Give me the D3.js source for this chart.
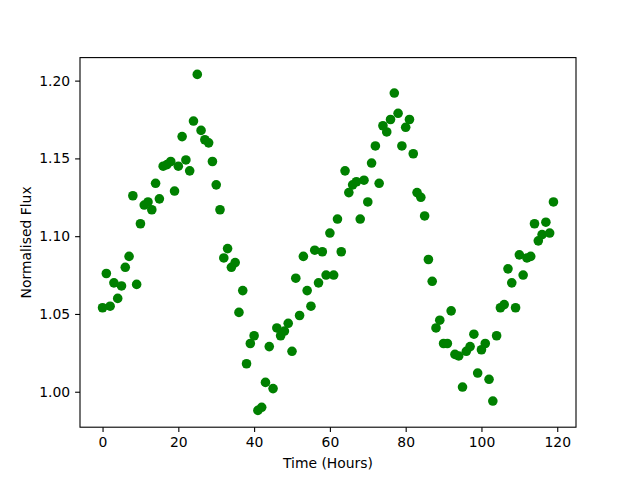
<!DOCTYPE html>
<html>
<head>
<meta charset="utf-8">
<script src="https://cdn.jsdelivr.net/npm/d3@7"></script>
<style>
  body { margin: 0; background: #fff; }
  svg { display: block; font-family: "DejaVu Sans", sans-serif; }
  .axis path { display: none; }
  .axis line { stroke: #000; stroke-width: 1.1; }
  .axis text { font-size: 13.9px; fill: #000; font-family: "DejaVu Sans", sans-serif; }
</style>
</head>
<body>
<div id="chart"></div>
<script>
// hours since start (hourly samples)
const hours = d3.range(0, 120);

// normalised flux, one per hour
const flux = [
  1.054, 1.076, 1.055, 1.070, 1.060, 1.068, 1.080, 1.087, 1.126, 1.069,
  1.108, 1.120, 1.122, 1.117, 1.134, 1.124, 1.145, 1.146, 1.148, 1.129,
  1.145, 1.164, 1.149, 1.142, 1.174, 1.204, 1.168, 1.162, 1.160, 1.148,
  1.133, 1.117, 1.086, 1.092, 1.080, 1.083, 1.051, 1.065, 1.018, 1.031,
  1.036, 0.988, 0.990, 1.006, 1.029, 1.002, 1.041, 1.036, 1.039, 1.044,
  1.026, 1.073, 1.049, 1.087, 1.065, 1.055, 1.091, 1.070, 1.090, 1.075,
  1.102, 1.075, 1.111, 1.090, 1.142, 1.128, 1.133, 1.135, 1.111, 1.136,
  1.122, 1.147, 1.158, 1.134, 1.171, 1.167, 1.175, 1.192, 1.179, 1.158,
  1.170, 1.175, 1.153, 1.128, 1.125, 1.113, 1.085, 1.071, 1.041, 1.046,
  1.031, 1.031, 1.052, 1.024, 1.023, 1.003, 1.026, 1.029, 1.037, 1.012,
  1.027, 1.031, 1.008, 0.994, 1.036, 1.054, 1.056, 1.079, 1.070, 1.054,
  1.088, 1.075, 1.086, 1.087, 1.108, 1.097, 1.101, 1.109, 1.102, 1.122
];

const xTicks = [0, 20, 40, 60, 80, 100, 120];
const yTicks = [1.00, 1.05, 1.10, 1.15, 1.20];

const data = hours.map((h, i) => ({ t: h, f: flux[i] }));

const width = 640, height = 480;
const margin = { top: 57.6, left: 80, right: 64, bottom: 52.8 };
const w = width - margin.left - margin.right;
const h = height - margin.top - margin.bottom;

// matplotlib style 5% padding around the data
function padded(ext) {
  const r = ext[1] - ext[0];
  return [ext[0] - 0.05 * r, ext[1] + 0.05 * r];
}

const x = d3.scaleLinear().domain(padded(d3.extent(hours))).range([0, w]);
const y = d3.scaleLinear().domain(padded(d3.extent(flux))).range([h, 0]);

const svg = d3.select('#chart').append('svg')
  .attr('width', width)
  .attr('height', height);

const g = svg.append('g')
  .attr('transform', `translate(${margin.left}, ${margin.top})`);

g.append('g')
  .attr('class', 'axis axis-x')
  .attr('transform', `translate(0, ${h})`)
  .call(d3.axisBottom(x).tickValues(xTicks).tickFormat(d3.format('d'))
    .tickSizeInner(4.9).tickSizeOuter(0).tickPadding(4.9));

g.append('g')
  .attr('class', 'axis axis-y')
  .call(d3.axisLeft(y).tickValues(yTicks).tickFormat(d3.format('.2f'))
    .tickSizeInner(4.9).tickSizeOuter(0).tickPadding(4.9));

g.selectAll('circle.pt')
  .data(data)
  .enter().append('circle')
  .attr('class', 'pt')
  .attr('cx', d => x(d.t))
  .attr('cy', d => y(d.f))
  .attr('r', 4.8)
  .attr('fill', '#008000');

// frame
g.append('rect')
  .attr('width', w)
  .attr('height', h)
  .attr('fill', 'none')
  .attr('stroke', '#000')
  .attr('stroke-width', 1.1);

svg.append('text')
  .attr('x', margin.left + w / 2)
  .attr('y', 468)
  .attr('text-anchor', 'middle')
  .style('font-size', '13.9px')
  .text('Time (Hours)');

svg.append('text')
  .attr('transform', `translate(31, ${margin.top + h / 2}) rotate(-90)`)
  .attr('text-anchor', 'middle')
  .style('font-size', '13.9px')
  .text('Normalised Flux');
</script>
</body>
</html>
